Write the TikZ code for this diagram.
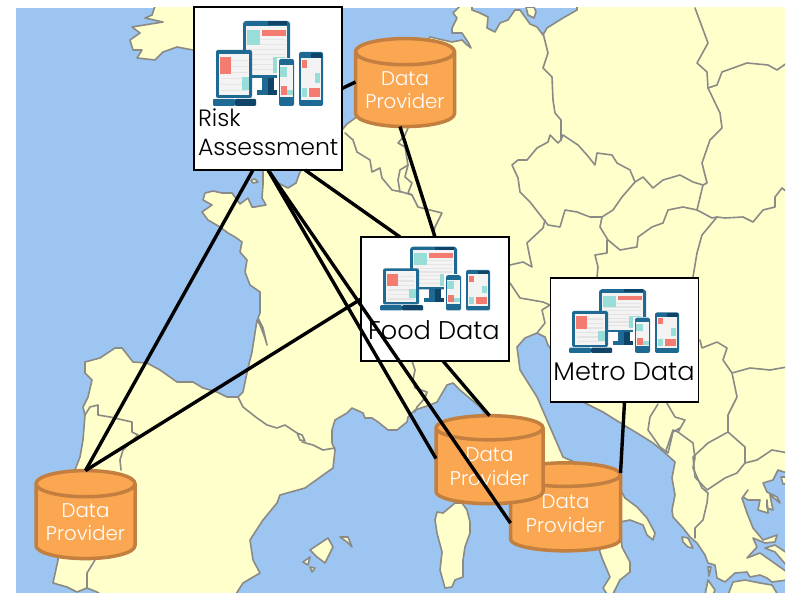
\documentclass[tikz,border=0pt]{standalone}
\usepackage{fontspec}
\setmainfont{Poppins Light}
\usetikzlibrary{shapes.geometric}
\definecolor{seablue}{HTML}{9DC5F1}
\definecolor{landyel}{HTML}{FFFFCC}
\definecolor{bordgray}{HTML}{8A8A86}
\definecolor{cylfill}{HTML}{FBA651}
\definecolor{cylline}{HTML}{C27F40}
\definecolor{devdark}{HTML}{0F4468}
\definecolor{devmid}{HTML}{1E6A92}
\definecolor{devscreen}{HTML}{F3F3F3}
\definecolor{devstripe}{HTML}{E4E4E4}
\definecolor{devteal}{HTML}{98DDD8}
\definecolor{devred}{HTML}{F47B6F}
\newcommand{\dptext}{\raisebox{-4pt}{Data}\\\raisebox{-4pt}{Provider}}
\tikzset{
  landarea/.style={fill=landyel,draw=bordgray,line width=1.6pt,line join=round},
  frontier/.style={draw=bordgray,line width=1.6pt,line join=round,line cap=round},
  screenbox/.style={rectangle,draw=black,line width=1.6pt,fill=white,inner sep=0pt,outer sep=0pt},
  store/.style={cylinder,shape border rotate=90,aspect=0.33,draw=cylline,line width=3.5pt,
    cylinder uses custom fill,cylinder body fill=cylfill,cylinder end fill=cylfill,
    minimum width=99pt,minimum height=88pt,inner sep=0pt,outer sep=0pt,
    text=white,align=center,font=\fontsize{19.8}{23.5}\selectfont},
  link/.style={draw=black,line width=3.4pt},
  caption/.style={inner sep=0pt,outer sep=0pt,text=black,font=\fontsize{25.6}{29}\selectfont},
  devices/.pic={
    \begin{scope}[shift={(-213,-20)}]
      % monitor
      \fill[devmid,rounded corners=3pt] (243,21) rectangle (290,78);
      \fill[devdark] (268,21) rectangle (287,25);
      \fill[devscreen] (246,26) rectangle (287,75);
      \foreach \yy in {39,44,49,54,59,64,69} {\fill[devstripe] (248,\yy) rectangle (285,\yy+1.5);}
      \fill[devteal] (247,30) rectangle (260,45);
      \fill[devred] (262,30) rectangle (286,36);
      \fill[devteal] (273,57) rectangle (285,73);
      \fill[devmid] (262,78) rectangle (268,90);
      \fill[devdark] (268,78) rectangle (274,90);
      \fill[devmid] (257,90) rectangle (268,95);
      \fill[devdark] (268,90) rectangle (279,95);
      % laptop
      \fill[devmid,rounded corners=2pt] (216,50) rectangle (252,98);
      \fill[devscreen] (219,54) rectangle (249,95);
      \foreach \yy in {60,66,72,78,84,90} {\fill[devstripe] (221,\yy) rectangle (247,\yy+1.5);}
      \fill[devred] (220,57) rectangle (231,74);
      \fill[devteal] (242,77) rectangle (249,90);
      \fill[devmid,rounded corners=1pt] (213,99) rectangle (235,106);
      \fill[devdark,rounded corners=1pt] (235,99) rectangle (256,106);
      % phone
      \fill[white] (277,58) rectangle (296,107);
      \fill[devmid,rounded corners=2pt] (279,59) rectangle (294,106);
      \fill[devscreen] (280,65) rectangle (293,97);
      \fill[devteal] (280,67) rectangle (287,77);
      \fill[devred] (281,86) rectangle (287,95);
      \fill[devteal] (287,90) rectangle (293,95);
      % tablet
      \fill[devmid,rounded corners=2pt] (299,52) rectangle (323,106);
      \fill[devdark] (311,53) rectangle (322,58);
      \fill[devscreen] (301,58) rectangle (321,100);
      \fill[devred] (302,60) rectangle (307,68);
      \fill[devteal] (315,73) rectangle (320,83);
      \fill[devteal] (302,88) rectangle (307,97);
      \fill[devred] (309,88) rectangle (320,97);
    \end{scope}
  }
}
\begin{document}
\begin{tikzpicture}[x=1pt,y=-1pt]
\useasboundingbox (0,0) rectangle (788,593);
\begin{scope}
\clip (16,8) rectangle (785,593);
\fill[seablue] (16,8) rectangle (785,593);
% mainland
\draw[landarea] plot coordinates {(452,42) (430,37) (420,50) (380,90) (358,116) (347,124) (342,130) (310,160) (300,172) (296,183) (288,188) (278,183) (271,172) (270,165) (262,165) (263,172) (263,185) (262,198) (266,205) (260,206) (255,207) (252,207) (248,198) (240,204) (232,193) (222,193) (213,191) (205,193) (203,200) (212,205) (202,212) (208,220) (220,227) (228,233) (235,237) (242,242) (240,252) (247,260) (245,272) (250,285) (260,292) (260,313) (258,318) (263,328) (267,345) (265,338) (260,325) (257,320) (252,352) (248,368) (243,392) (238,397) (227,397) (217,392) (203,388) (193,382) (177,382) (160,370) (147,363) (133,362) (122,348) (115,348) (100,358) (85,362) (85,373) (92,380) (88,397) (83,407) (85,415) (83,440) (80,457) (73,475) (60,540) (58,560) (53,583) (67,587) (77,592) (87,588) (97,592) (100,594) (236,594) (243,583) (260,573) (253,560) (250,540) (263,520) (277,503) (280,495) (305,488) (333,468) (335,450) (332,443) (332,430) (335,420) (347,413) (352,408) (363,413) (365,418) (372,418) (378,422) (388,430) (397,430) (407,422) (408,417) (415,410) (430,405) (437,402) (447,385) (453,383) (460,390) (480,407) (530,480) (598,546) (602,558) (610,577) (603,588) (607,594) (613,594) (620,580) (630,572) (630,562) (622,547) (620,522) (630,520) (643,525) (647,535) (653,540) (655,533) (647,518) (637,507) (625,498) (615,480) (563,457) (550,427) (537,397) (520,370) (517,347) (525,338) (537,333) (545,337) (548,345) (553,352) (565,390) (583,402) (603,412) (627,427) (637,433) (653,443) (665,453) (675,462) (672,478) (675,495) (672,510) (673,517) (683,528) (690,537) (697,543) (705,555) (708,563) (715,565) (717,578) (725,582) (735,573) (747,572) (750,577) (760,575) (767,578) (772,582) (787,580) (787,572) (770,560) (760,553) (747,558) (757,547) (753,538) (765,543) (775,542) (777,535) (763,540) (753,528) (747,513) (742,498) (748,490) (743,497) (748,500) (760,500) (758,510) (768,513) (767,500) (767,508) (773,510) (770,495) (780,503) (777,497) (767,492) (763,483) (773,480) (778,470) (787,473) (787,6) (577,6) (577,10) (563,18) (547,28) (543,35) (537,27) (530,24) (525,17) (520,10) (515,10) (508,20) (500,23) (495,32) (487,28) (488,17) (480,13) (472,10) (472,6) (460,6) (453,13) (457,18) (452,28) (452,33) (462,33) (468,42) (471,48) (467,45) (462,40)} -- cycle;
% islands and Britain
\draw[landarea] plot coordinates {(155,6) (152,15) (145,18) (163,22) (132,27) (140,33) (130,40) (133,50) (142,50) (137,58) (155,60) (163,52) (177,47) (193,50) (200,50) (200,6)} -- cycle;
\draw[landarea] plot coordinates {(526,7) (528,15) (534,18) (536,12) (534,7)} -- cycle;
\draw[landarea] plot coordinates {(251,180) (255,179) (258,182) (253,183)} -- cycle;
\draw[landarea] plot coordinates {(455,503) (462,503) (467,510) (470,522) (470,533) (465,547) (463,560) (463,577) (455,580) (452,587) (445,588) (440,570) (442,552) (437,533) (435,520) (437,512) (443,513)} -- cycle;
\draw[landarea] plot coordinates {(310,550) (328,538) (333,547) (325,563) (317,557)} -- cycle;
\draw[landarea] plot coordinates {(340,537) (348,537) (352,547) (347,542)} -- cycle;
\draw[landarea] plot coordinates {(303,562) (310,557) (308,565)} -- cycle;
\draw[landarea] plot coordinates {(310,567) (315,568) (312,572)} -- cycle;
\draw[landarea] plot coordinates {(682,537) (688,538) (693,548) (688,547) (683,542)} -- cycle;
\draw[landarea] plot coordinates {(708,567) (711,567) (709,576)} -- cycle;
\draw[landarea] plot coordinates {(705,595) (708,580) (715,590) (713,595)} -- cycle;
\draw[landarea] plot coordinates {(728,595) (733,582) (745,580) (760,583) (772,585) (778,595)} -- cycle;
\draw[landarea] plot coordinates {(765,548) (775,552) (787,566) (787,553) (775,545)} -- cycle;
\draw[landarea] plot coordinates {(781,477) (787,477) (787,484) (783,484)} -- cycle;
% borders
\draw[frontier] plot coordinates {(85,415) (90,407) (98,405) (98,415) (110,417) (132,422) (132,432) (138,435) (123,450) (120,460) (121,470)};
\draw[frontier] plot coordinates {(95,560) (87,573) (87,588)};
\draw[frontier] plot coordinates {(238,397) (243,407) (257,418) (267,425) (277,428) (285,425) (297,433) (300,440) (305,441) (302,435) (297,433)};
\draw[frontier] plot coordinates {(302,442) (313,445) (323,450) (335,448)};
\draw[frontier] plot coordinates {(345,133) (353,140) (357,152) (370,160) (372,172) (380,168) (382,178) (392,190) (402,192) (412,195) (418,207) (442,213) (435,227) (433,237)};
\draw[frontier] plot coordinates {(408,128) (405,135) (398,143) (405,147) (408,165) (400,170) (398,180) (400,192)};
\draw[frontier] plot coordinates {(408,165) (405,177) (412,183) (408,193) (412,195)};
\draw[frontier] plot coordinates {(543,33) (548,53) (543,68) (552,77) (553,100) (555,113) (561,120) (561,140)};
\draw[frontier] plot coordinates {(561,140) (558,143) (550,135) (548,142) (537,148) (527,160) (518,160) (512,165) (518,178) (520,192) (530,202) (548,225) (560,227) (565,210) (577,212) (590,217) (602,217) (613,210) (622,197) (635,182) (630,170) (617,163) (612,155) (597,153) (595,165) (587,155) (578,145) (563,135) (561,140)};
\draw[frontier] plot coordinates {(635,182) (643,177) (653,188) (663,180) (680,175) (693,182) (703,185) (697,210) (683,207) (668,210) (663,223) (652,227) (638,237) (637,247) (620,250) (608,240) (600,227) (602,217)};
\draw[frontier] plot coordinates {(695,8) (708,43) (697,63) (707,72) (708,88) (720,113) (722,128) (710,140) (702,163) (707,183) (703,185)};
\draw[frontier] plot coordinates {(708,88) (717,85) (722,72) (747,63) (768,65) (777,70) (787,63)};
\draw[frontier] plot coordinates {(697,210) (712,218) (717,217) (725,218) (743,217) (753,222) (763,210) (775,207) (775,197) (782,188) (787,192)};
\draw[frontier] plot coordinates {(717,217) (702,235) (697,253) (693,277)};
\draw[frontier] plot coordinates {(607,240) (607,253) (595,255) (598,267) (597,277)};
\draw[frontier] plot coordinates {(545,220) (543,228) (527,243) (530,258) (532,267) (523,262) (510,265)};
\draw[frontier] plot coordinates {(510,283) (520,298) (543,302) (550,305) (542,310) (545,323) (537,333)};
\draw[frontier] plot coordinates {(700,340) (702,348) (717,342) (727,348) (723,360) (732,373) (737,397) (728,415) (728,432)};
\draw[frontier] plot coordinates {(732,373) (750,368) (770,370) (787,367)};
\draw[frontier] plot coordinates {(728,432) (745,447) (745,463) (737,473) (725,478) (707,490) (695,477) (693,457) (708,443) (728,432)};
\draw[frontier] plot coordinates {(745,463) (757,460) (772,450) (783,452) (787,453)};
\draw[frontier] plot coordinates {(665,453) (668,445) (673,430) (678,432) (693,443) (695,458) (693,468) (702,488) (708,493) (707,503) (703,520) (695,528) (695,538)};
\draw[frontier] plot coordinates {(678,432) (685,420) (675,417) (668,405) (665,400)};
\draw[frontier] plot coordinates {(658,404) (650,417) (648,430) (660,447) (668,453) (673,432) (680,428)};
\draw[frontier] plot coordinates {(412,361) (415,370) (413,380) (415,388) (427,392) (425,398) (417,407) (415,412)};
\end{scope}
% stores
\node[store,minimum width=110pt,aspect=0.297] (dpb) at (565.5,513.6) {\dptext};
\node[store,minimum width=107pt,aspect=0.305] (dpc) at (489.5,466.6) {\dptext};
\node[store] (dpa) at (405,90) {\dptext};
\node[store] (dpp) at (85.5,522) {\dptext};
% boxes
\node[screenbox,minimum width=148pt,minimum height=163pt] (risk) at (268,88.5) {};
\node[screenbox,minimum width=148pt,minimum height=124pt] (food) at (435,299) {};
\node[screenbox,minimum width=148pt,minimum height=124pt] (metro) at (624.5,340) {};
\pic at (213,20) {devices};
\pic[yscale=0.75] at (380,246) {devices};
\pic[yscale=0.75] at (569,288.5) {devices};
\node[caption,anchor=base west,font=\fontsize{23.6}{29}\selectfont] (risklabela) at (198,127) {Risk};
\node[caption,anchor=base west,font=\fontsize{23.6}{29}\selectfont] (risklabelb) at (198,156) {Assessment};
\node[caption,anchor=base] (foodlabel) at (434,340) {Food Data};
\node[caption,anchor=base] (metrolabel) at (624,381) {Metro Data};
% connectors
\draw[link] (risk.east) -- ([yshift=8pt]dpa.west);
\draw[link] ([xshift=-15pt]risk.south) -- (dpp.north);
\draw[link] (risk.south) -- ([yshift=8pt]dpc.west);
\draw[link] (risk.south) -- ([yshift=-9.5pt]dpb.west);
\draw[link] ([xshift=37pt]risk.south) -- ([xshift=-35pt]food.north);
\draw[link] ([xshift=-5pt]dpa.south) -- (food.north);
\draw[link] (food.west) -- (dpp.north);
\draw[link] ([xshift=8pt]food.south) -- (dpc.north);
\draw[link] (metro.south) -- ([yshift=40.5pt]dpb.east);
\end{tikzpicture}
\end{document}
